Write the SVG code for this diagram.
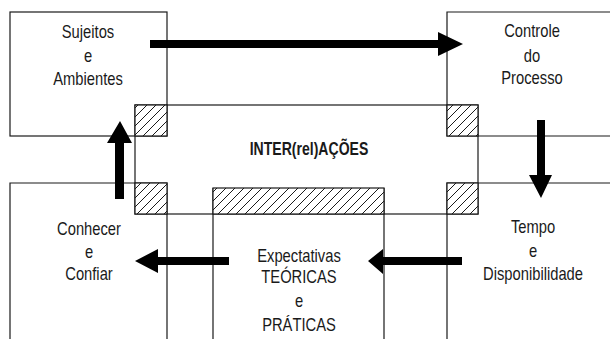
<svg xmlns="http://www.w3.org/2000/svg" width="610" height="339" viewBox="0 0 610 339">
<style>
.ln{fill:none;stroke:#1a1a1a;stroke-width:1.2}
.ht{fill:url(#hatch);stroke:#1a1a1a;stroke-width:1.2}
.ar{fill:#000}
text{font-family:"Liberation Sans",Arial,sans-serif;font-size:18px;fill:#1a1a1a;text-anchor:middle}
.b{font-weight:bold;font-size:19px}
</style>
<defs>
<pattern id="hatch" patternUnits="userSpaceOnUse" width="9" height="9">
<rect width="9" height="9" fill="#fff"/>
<path d="M-1,10 L10,-1 M-1,1 L1,-1 M8,10 L10,8" stroke="#1a1a1a" stroke-width="1"/>
</pattern>
</defs>
<rect width="610" height="339" fill="#fff"/>
<g id="sujeitos">
<rect class="ln" x="10" y="12" width="157" height="124"/>
<text transform="translate(88,38) scale(0.82,1)">Sujeitos</text>
<text transform="translate(88,62) scale(0.82,1)">e</text>
<text transform="translate(88,85) scale(0.82,1)">Ambientes</text>
</g>
<g id="controle">
<path class="ln" d="M611,12 H447 V136 H611"/>
<text transform="translate(532,37) scale(0.82,1)">Controle</text>
<text transform="translate(532,62) scale(0.82,1)">do</text>
<text transform="translate(532,84) scale(0.82,1)">Processo</text>
</g>
<g id="conhecer">
<path class="ln" d="M10,340 V183 H167 V340"/>
<text transform="translate(89,235) scale(0.82,1)">Conhecer</text>
<text transform="translate(89,258) scale(0.82,1)">e</text>
<text transform="translate(89,280) scale(0.82,1)">Confiar</text>
</g>
<g id="tempo">
<path class="ln" d="M611,183 H447 V340"/>
<text transform="translate(533,233) scale(0.82,1)">Tempo</text>
<text transform="translate(533,257) scale(0.82,1)">e</text>
<text transform="translate(533,280) scale(0.82,1)">Disponibilidade</text>
</g>
<g id="interrelacoes">
<rect class="ln" x="135" y="105" width="343" height="109"/>
<rect class="ht" x="135" y="105" width="32" height="31"/>
<rect class="ht" x="447" y="105" width="31" height="31"/>
<rect class="ht" x="135" y="183" width="32" height="31"/>
<rect class="ht" x="447" y="183" width="31" height="31"/>
<text class="b" transform="translate(309,155) scale(0.74,1)">INTER(rel)AÇÕES</text>
</g>
<g id="expectativas">
<path class="ln" d="M213,340 V188 M384,188 V340"/>
<rect class="ht" x="213" y="188" width="171" height="26"/>
<text transform="translate(299,262) scale(0.82,1)">Expectativas</text>
<text transform="translate(299,283) scale(0.82,1)">TEÓRICAS</text>
<text transform="translate(299,307) scale(0.82,1)">e</text>
<text transform="translate(299,331) scale(0.82,1)">PRÁTICAS</text>
</g>
<g id="connectors">
<polygon class="ar" points="150,40 438,40 438,32 463,44 438,56 438,48 150,48"/>
<polygon class="ar" points="537,120 545,120 545,175 552,175 541,198 529,175 537,175"/>
<polygon class="ar" points="462,257 383,257 383,249 368,261 383,274 383,265 462,265"/>
<polygon class="ar" points="229,257 158,257 158,249 135,261 158,273 158,265 229,265"/>
<polygon class="ar" points="115,199 115,143 107,143 120,121 132,143 124,143 124,199"/>
</g>
</svg>
